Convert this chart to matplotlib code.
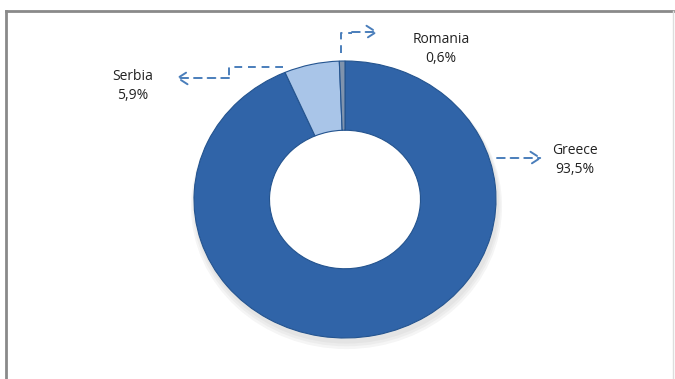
import numpy as np
import matplotlib.pyplot as plt
from matplotlib.patches import Ellipse

countries = ['Greece', 'Serbia', 'Romania']
shares = [93.5, 5.9, 0.6]
share_labels = ['93,5%', '5,9%', '0,6%']
colors = ['#3064a8', '#a9c5e8', '#7f93ad']

W, H = 675, 379
CX, CY, RX, RY = 345, 199.5, 151, 138.5


def px(x, y):
    # pixel position (top-left origin) -> data coords of the full-figure axes
    return (x - CX) / RX, (CY - y) / RY


fig = plt.figure(figsize=(W / 100, H / 100), dpi=100)
ax = fig.add_axes([0, 0, 1, 1])

# soft shadow under the ring
for k, a in enumerate([0.05, 0.05, 0.06]):
    ax.add_patch(Ellipse((0.01, -0.03 - 0.01 * k), 2.02 + 0.02 * k, 2.02 + 0.02 * k,
                         facecolor='#555555', alpha=a, edgecolor='none', zorder=0))
ax.add_patch(Ellipse((0, 0), 1.0, 1.0, facecolor='white', edgecolor='none', zorder=1))

wedges, _ = ax.pie(shares, colors=colors, startangle=90, counterclock=False,
                   radius=1, wedgeprops=dict(width=0.5, edgecolor='#24548f', linewidth=0.8))
for w in wedges:
    w.set_zorder(2)

ax.set_aspect('auto')
ax.set_xlim((0 - CX) / RX, (W - CX) / RX)
ax.set_ylim((CY - H) / RY, CY / RY)
ax.axis('off')

# chart frame
ax.plot([px(6, 11)[0], px(673, 11)[0]], [px(6, 11)[1]] * 2, color='#8a8a8a', lw=2, zorder=1)
ax.plot([px(6, 11)[0]] * 2, [px(6, 11)[1], px(6, 379)[1]], color='#8a8a8a', lw=2, zorder=1)
ax.plot([px(673, 11)[0]] * 2, [px(673, 11)[1], px(673, 379)[1]], color='#dddddd', lw=1, zorder=1)

line_col = '#4a7ebb'
dash = dict(color=line_col, lw=1.4, ls=(0, (4, 3)), zorder=3)
arrow = dict(arrowstyle='->,head_length=0.7,head_width=0.45', color=line_col, lw=1.4,
             linestyle=(0, (4, 3)), shrinkA=0, shrinkB=0)

# Greece
ax.annotate('', xy=px(542, 158), xytext=px(497, 158), arrowprops=arrow)
# Serbia
pts = [px(283, 67), px(229, 67), px(229, 78)]
ax.plot([p[0] for p in pts], [p[1] for p in pts], **dash)
ax.annotate('', xy=px(176, 78), xytext=px(229, 78), arrowprops=arrow)
# Romania
pts = [px(341, 53), px(341, 33), px(352, 33)]
ax.plot([p[0] for p in pts], [p[1] for p in pts], **dash)
ax.annotate('', xy=px(378, 32), xytext=px(352, 32), arrowprops=arrow)

label_pos = {'Greece': (575, 160), 'Serbia': (133, 86), 'Romania': (441, 49)}
for name, pct in zip(countries, share_labels):
    x, y = px(*label_pos[name])
    ax.text(x, y, f'{name}\n{pct}', ha='center', va='center', fontsize=10,
            family='Open Sans', color='#222222', linespacing=1.3)

fig.savefig('out.png', dpi=100)
